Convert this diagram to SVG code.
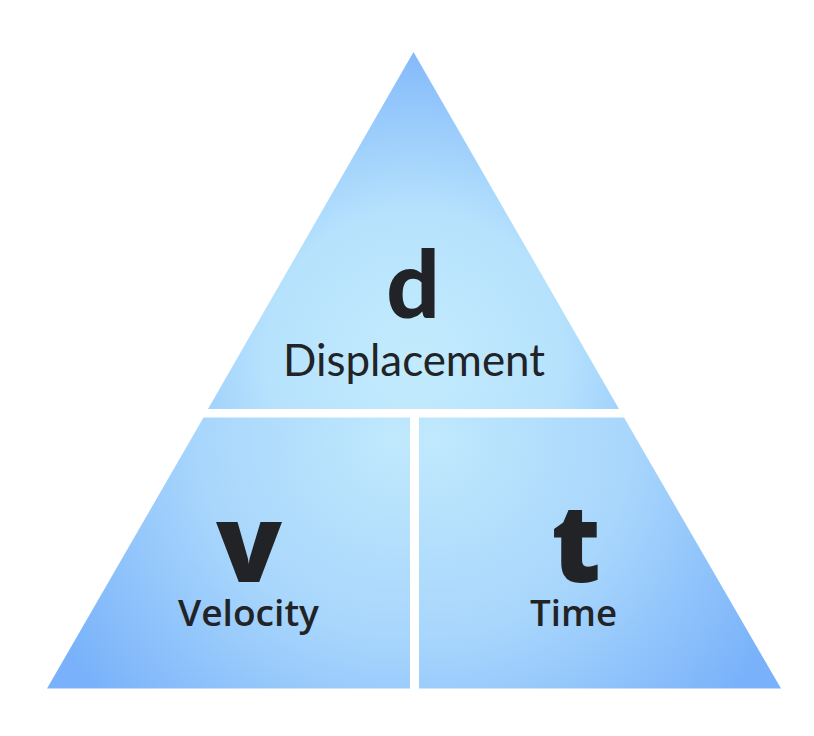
<svg xmlns="http://www.w3.org/2000/svg" width="814" height="736" viewBox="0 0 814 736">
<defs>
<radialGradient id="gTop" gradientUnits="userSpaceOnUse" cx="414" cy="360" r="330">
<stop offset="0" stop-color="#c3ebfd"/>
<stop offset="0.45" stop-color="#b6e2fd"/>
<stop offset="1" stop-color="#7cb4fa"/>
</radialGradient>
<radialGradient id="gLeft" gradientUnits="userSpaceOnUse" cx="395" cy="440" r="390">
<stop offset="0" stop-color="#c0e9fd"/>
<stop offset="0.5" stop-color="#a8d6fc"/>
<stop offset="1" stop-color="#79b2fa"/>
</radialGradient>
<radialGradient id="gRight" gradientUnits="userSpaceOnUse" cx="435" cy="440" r="390">
<stop offset="0" stop-color="#c0e9fd"/>
<stop offset="0.5" stop-color="#a8d6fc"/>
<stop offset="1" stop-color="#79b2fa"/>
</radialGradient>
</defs>
<style>
.big{font-family:"Open Sans","Liberation Sans",sans-serif;font-weight:800;fill:#222326;text-anchor:middle}
.lbl{font-family:"Open Sans","Liberation Sans",sans-serif;font-weight:600;fill:#222326;text-anchor:middle}
.dl{font-family:"Lato","Liberation Sans",sans-serif;font-weight:400;fill:#222326;text-anchor:middle}
</style>
<rect width="814" height="736" fill="#ffffff"/>
<g id="top">
<polygon points="413.5,52 619,409 208,409" fill="url(#gTop)"/>
<text class="big" x="413" y="318" font-size="94" style="font-family:Lato,'Liberation Sans',sans-serif;font-weight:900">d</text>
<text class="dl" x="414" y="376" font-size="44" textLength="262" lengthAdjust="spacingAndGlyphs">Displacement</text>
</g>
<g id="velocity">
<polygon points="203.5,417.5 410,417.5 410,688.5 47,688.5" fill="url(#gLeft)"/>
<text class="big" x="249" y="582" font-size="108">v</text>
<text class="lbl" x="248.5" y="626" font-size="36" textLength="141" lengthAdjust="spacingAndGlyphs">Velocity</text>
</g>
<g id="time">
<polygon points="419,417.5 624,417.5 781,688.5 419,688.5" fill="url(#gRight)"/>
<text class="big" x="576" y="582" font-size="108">t</text>
<text class="lbl" x="573.5" y="626" font-size="36" textLength="87" lengthAdjust="spacingAndGlyphs">Time</text>
</g>
</svg>
